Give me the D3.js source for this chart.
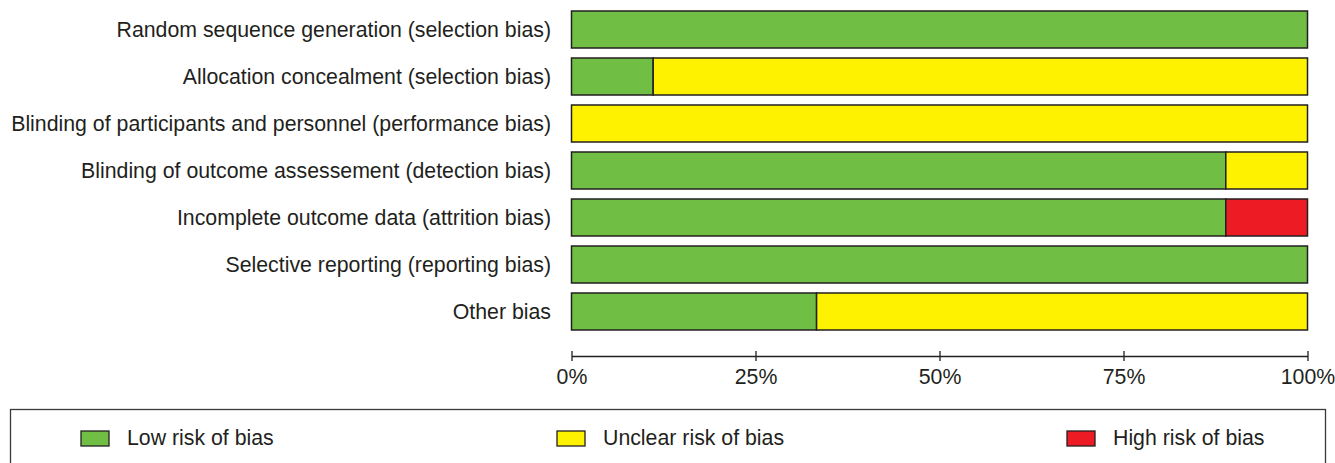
<!DOCTYPE html>
<html><head><meta charset="utf-8">
<script src="https://cdn.jsdelivr.net/npm/d3@7"></script>
<style>
html,body{margin:0;padding:0;background:#fff;}
svg{display:block;}
text{font-family:"Liberation Sans",Arial,Helvetica,sans-serif;fill:#231f20;}
</style></head>
<body>
<svg id="chart" width="1335" height="463"></svg>
<script>
const categories = [
  "Random sequence generation (selection bias)",
  "Allocation concealment (selection bias)",
  "Blinding of participants and personnel (performance bias)",
  "Blinding of outcome assessement (detection bias)",
  "Incomplete outcome data (attrition bias)",
  "Selective reporting (reporting bias)",
  "Other bias"
];
const lowRisk     = [100, 11.1, 0, 88.9, 88.9, 100, 33.3];
const unclearRisk = [0, 88.9, 100, 11.1, 0, 0, 66.7];
const highRisk    = [0, 0, 0, 0, 11.1, 0, 0];
const tickValues = [0, 25, 50, 75, 100];
const tickLabels = ["0%", "25%", "50%", "75%", "100%"];
const seriesNames = ["Low risk of bias", "Unclear risk of bias", "High risk of bias"];
const seriesColors = ["#70bf44", "#fff200", "#ed1c24"];

const svg = d3.select("#chart");
const stroke = "#231f20";
const fs = 21.3;

const x = d3.scaleLinear().domain([0, 100]).range([571.5, 1307.5]);
const y = d3.scaleBand().domain(categories).range([6, 335]).paddingInner(10/47).paddingOuter(5/47);

const rows = categories.map((c, i) => ({cat: c, vals: [lowRisk[i], unclearRisk[i], highRisk[i]]}));
const segs = [];
rows.forEach(r => {
  let acc = 0;
  r.vals.forEach((v, k) => {
    if (v > 0) segs.push({cat: r.cat, x0: acc, x1: acc + v, k});
    acc += v;
  });
});

svg.append("g").selectAll("rect").data(segs).join("rect")
  .attr("x", d => x(d.x0))
  .attr("y", d => y(d.cat))
  .attr("width", d => x(d.x1) - x(d.x0))
  .attr("height", y.bandwidth())
  .attr("fill", d => seriesColors[d.k])
  .attr("stroke", stroke)
  .attr("stroke-width", 1.5);

svg.append("g").selectAll("text").data(categories).join("text")
  .attr("x", 551)
  .attr("y", d => y(d) + y.bandwidth() / 2)
  .attr("dy", "0.33em")
  .attr("text-anchor", "end")
  .style("font-size", fs + "px")
  .text(d => d);

const axis = d3.axisBottom(x).tickValues(tickValues)
  .tickFormat((d, i) => tickLabels[i]).tickSizeInner(5).tickSizeOuter(0);
const ag = svg.append("g").attr("transform", "translate(0,356)").call(axis);
ag.select(".domain").attr("stroke", stroke).attr("stroke-width", 1.3);
ag.selectAll(".tick line").attr("y1", -5).attr("y2", 5).attr("stroke", stroke).attr("stroke-width", 1.3);
ag.selectAll(".tick text").attr("y", 28).attr("dy", 0)
  .style("font-size", fs + "px").style("font-family", "'Liberation Sans',Arial,sans-serif").attr("fill", stroke);

// legend
svg.append("rect").attr("x", 10.5).attr("y", 409.5).attr("width", 1315).attr("height", 80)
  .attr("fill", "none").attr("stroke", "#3a3a3a").attr("stroke-width", 1.3);
const legX = [81, 557, 1067];
const lg = svg.append("g").selectAll("g").data(seriesNames).join("g")
  .attr("transform", (d, i) => `translate(${legX[i]},431)`);
lg.append("rect").attr("width", 28).attr("height", 15)
  .attr("fill", (d, i) => seriesColors[i]).attr("stroke", stroke).attr("stroke-width", 1.3);
lg.append("text").attr("x", 46).attr("y", 14).style("font-size", fs + "px").text(d => d);
</script>
</body></html>
